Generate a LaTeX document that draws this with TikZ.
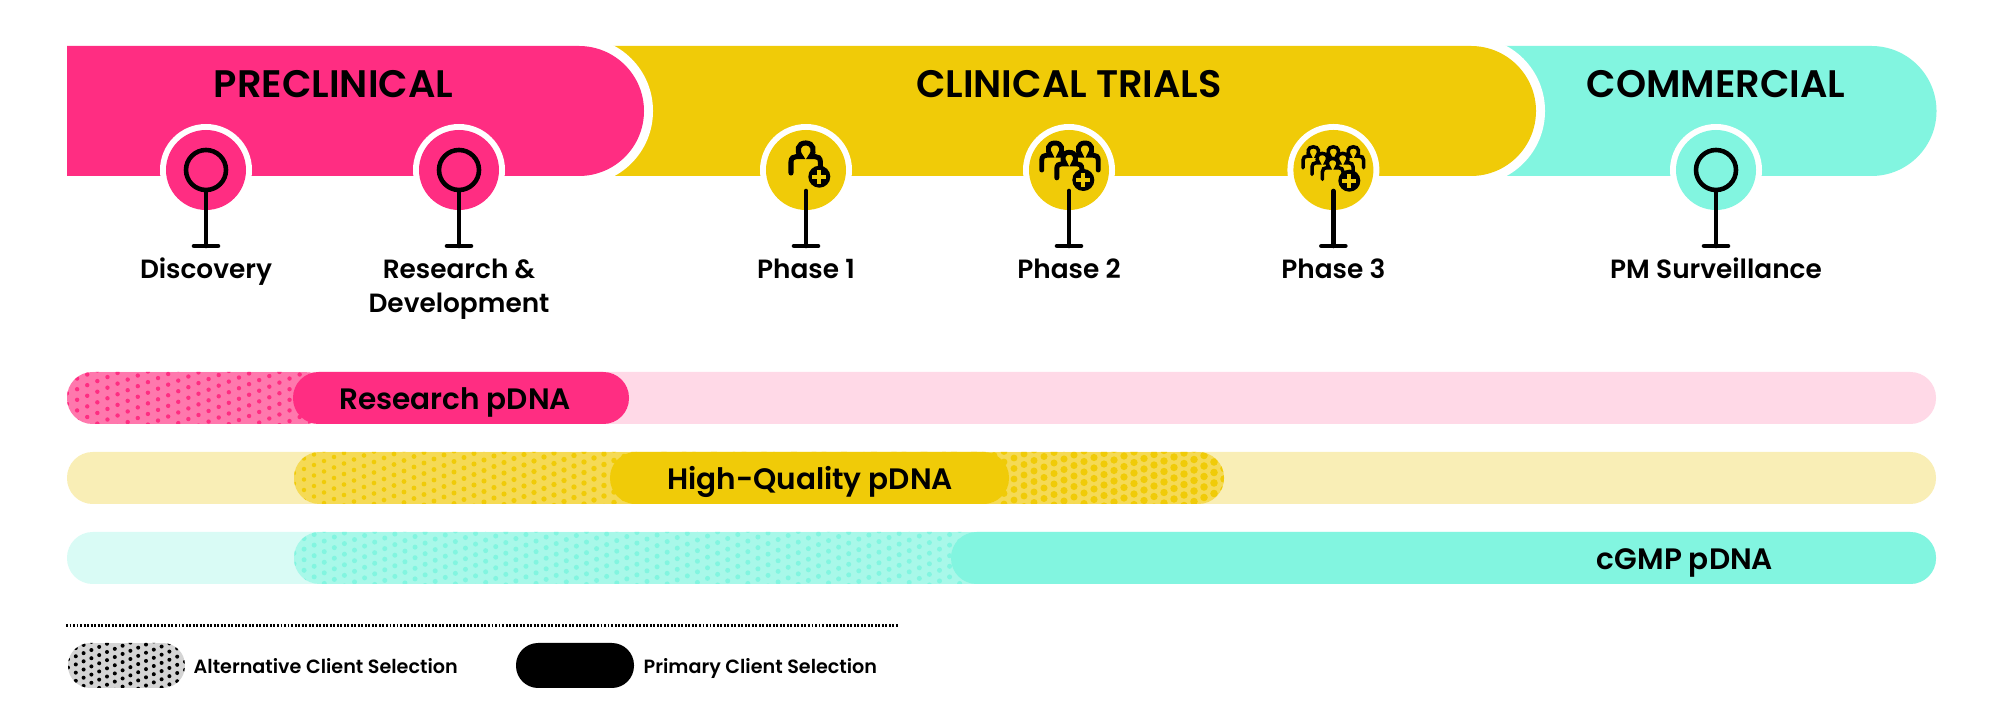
\documentclass[tikz,border=0pt]{standalone}
\usepackage{fontspec}
\setmainfont{Poppins SemiBold}
\usetikzlibrary{positioning, calc}
\definecolor{pinkc}{HTML}{FF2D82}
\definecolor{pinkm}{HTML}{FF78AD}
\definecolor{pinkl}{HTML}{FFD9E7}
\definecolor{yellowc}{HTML}{F0CB08}
\definecolor{yellowm}{HTML}{F5DA55}
\definecolor{yellowl}{HTML}{F9EEB6}
\definecolor{tealc}{HTML}{82F5E0}
\definecolor{tealm}{HTML}{A8F8E9}
\definecolor{teall}{HTML}{D9FBF5}
\newcommand{\stagebar}[3]{%
  % #1 = x start, #2 = x end, #3 = colour
  \fill[white, rounded corners=21pt] (#1,37) -- (#2+9,37) -- (#2+9,185) -- (#1,185) -- cycle;
  \fill[#3] (#1,46) [rounded corners=18.5pt] -- (#2,46) -- (#2,176) [sharp corners] -- (#1,176) -- cycle;
}
\newcommand{\dotbar}[9]{%
  % #1 = x start, #2 = x end, #3 = y top, #4 = height, #5 = background
  % #6 = dots colour, #7 = columns, #8 = radius start, #9 = radius end
  \begin{scope}
    \clip[rounded corners=#4*0.14pt] (#1,#3) rectangle (#2,#3+#4);
    \fill[#5] (#1,#3) rectangle (#2,#3+#4);
    \pgfmathsetmacro{\colstep}{(#2-#1)/#7}
    \pgfmathsetmacro{\rowstep}{1.05*\colstep}
    \foreach \i in {0,...,#7} {
      \pgfmathsetmacro{\colx}{#1+\i*\colstep}
      \pgfmathsetmacro{\coly}{#3+mod(-0.4*\i*\colstep+1000*\rowstep,\rowstep)-\rowstep}
      \pgfmathsetmacro{\dotr}{#8+(#9-#8)*\i/#7}
      \foreach \j in {0,...,8} {
        \pgfmathsetmacro{\doty}{\coly+\j*\rowstep}
        \ifdim\doty pt<\dimexpr #3pt+#4pt+4pt\relax
          \fill[#6] (\colx,\doty) circle (\dotr);
        \fi
      }
    }
  \end{scope}
}
\newcommand{\person}[4]{%
  % #1 = x, #2 = y, #3 = scale, #4 = line width
  \begin{scope}[shift={(#1,#2)}, scale=#3]
    \draw[line width=#4, line cap=round, fill=yellowc]
      (-14.7,23) -- (-14.7,12) .. controls (-14.7,8) and (-12,6.5) .. (-9,6.5)
      -- (-5,6.5) .. controls (-9.5,1) and (-8,-7) .. (0,-7)
      .. controls (8,-7) and (9.5,1) .. (5,6.5)
      -- (9,6.5) .. controls (12,6.5) and (14.7,8) .. (14.7,12) -- (14.7,23);
  \end{scope}
}
\newcommand{\plusdisc}[2]{%
  % #1 = x, #2 = y
  \fill[black] (#1,#2) circle (11);
  \draw[yellowc, line width=1.2pt] (#1-7,#2) -- (#1+7,#2);
  \draw[yellowc, line width=1.2pt] (#1,#2-7) -- (#1,#2+7);
}
\tikzset{
  stemline/.style={line width=1.3pt, line cap=round, black},
  headtext/.style={anchor=base, inner sep=0pt, font=\fontsize{10.9}{14}\selectfont},
  stagetext/.style={anchor=base, inner sep=0pt, font=\fontsize{7.5}{9.67}\selectfont},
  bartext/.style={anchor=base, inner sep=0pt, font=\fontsize{8.4}{10}\selectfont},
  keytext/.style={anchor=base west, inner sep=0pt, font=\fontsize{5.45}{6}\selectfont},
}
\begin{document}
\begin{tikzpicture}[x=0.01cm, y=-0.01cm]
    \useasboundingbox (0,0) rectangle (2000,725);

    % top band
    \stagebar{1480}{1936.5}{tealc}
    \stagebar{600}{1536}{yellowc}
    \stagebar{67}{644}{pinkc}

    \node[headtext] (preclinical) at (333.5,98) {PRECLINICAL};
    \node[headtext] (clinical) at (1069,98) {CLINICAL TRIALS};
    \node[headtext] (commercial) at (1716,98) {COMMERCIAL};

    % stage discs
    \foreach \sx/\scol in {206/pinkc, 459/pinkc, 806/yellowc, 1069/yellowc, 1333.4/yellowc, 1716/tealc} {
      \fill[white] (\sx,170) circle (46);
      \fill[\scol] (\sx,170) circle (40);
      \draw[stemline] (\sx,191) -- (\sx,246);
      \draw[stemline] (\sx-12,246) -- (\sx+12,246);
    }
    \foreach \sx in {206, 459, 1716} {
      \draw[line width=1.3pt] (\sx,170) circle (20);
    }

    % people
    \person{805.7}{150}{1}{1.45pt}
    \plusdisc{819.3}{176.7}

    \person{1055}{149.3}{0.9}{1.4pt}
    \person{1085}{149.3}{0.9}{1.4pt}
    \person{1069.3}{158.3}{0.85}{1.4pt}
    \plusdisc{1083.3}{180}

    \person{1313.3}{151.7}{0.7}{1pt}
    \person{1353.3}{151.7}{0.7}{1pt}
    \person{1333.3}{151.7}{0.7}{1pt}
    \person{1322.3}{158.3}{0.7}{1pt}
    \person{1342.7}{158.3}{0.7}{1pt}
    \person{1332.7}{163.3}{0.7}{1pt}
    \plusdisc{1349.3}{180.7}

    \node[stagetext] (discovery) at (206,279) {Discovery};
    \node[stagetext, anchor=north, align=center] (research) at (459,258) {Research \&\\Development};
    \node[stagetext] (phaseone) at (806,279) {Phase 1};
    \node[stagetext] (phasetwo) at (1069,279) {Phase 2};
    \node[stagetext] (phasethree) at (1333.4,279) {Phase 3};
    \node[stagetext] (surveillance) at (1716,279) {PM Surveillance};

    % rows
    \fill[pinkl, rounded corners=7.3pt] (67,372) rectangle (1936,424);
    \dotbar{67}{330}{372}{52}{pinkm}{pinkc}{26}{2.2}{2.2}
    \fill[pinkc, rounded corners=7.3pt] (293,372) rectangle (629,424);
    \node[bartext] (research dna) at (455,410) {Research pDNA};

    \fill[yellowl, rounded corners=7.3pt] (67,452) rectangle (1936,504);
    \dotbar{294}{1224}{452}{52}{yellowm}{yellowc}{93}{2.2}{3.8}
    \fill[yellowc, rounded corners=7.3pt] (610,452) rectangle (1009,504);
    \node[bartext] (quality dna) at (810,490) {High-Quality pDNA};

    \fill[teall, rounded corners=7.3pt] (67,532) rectangle (1936,584);
    \dotbar{294}{1000}{532}{52}{tealm}{tealc}{70}{2.5}{2.5}
    \fill[tealc, rounded corners=7.3pt] (951,532) rectangle (1936,584);
    \node[bartext] (cgmp dna) at (1685,570) {cGMP pDNA};

    % key
    \draw[line width=0.7pt, dash pattern=on 0.55pt off 0.45pt] (66,625.5) -- (899,625.5);
    \dotbar{68}{185}{643}{45}{black!17}{black}{15}{2}{2}
    \fill[black, rounded corners=6.3pt] (516,643) rectangle (634,688);
    \node[keytext] (altkey) at (193,673) {Alternative Client Selection};
    \node[keytext] (primarykey) at (643,673) {Primary Client Selection};

\end{tikzpicture}
\end{document}
